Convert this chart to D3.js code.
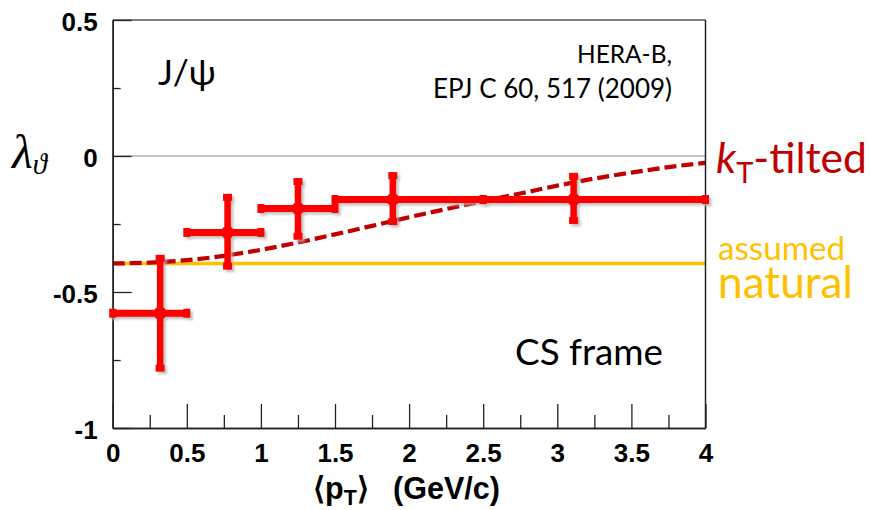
<!DOCTYPE html>
<html>
<head>
<meta charset="utf-8">
<script src="https://cdn.jsdelivr.net/npm/d3@7"></script>
<style>
  html, body { margin: 0; padding: 0; background: #ffffff; }
  svg { display: block; }
</style>
</head>
<body>
<svg id="chart" width="870" height="510"></svg>
<script>
// ---------------- data ----------------
const ptCenter   = [0.32, 0.775, 1.25, 1.89, 3.11];
const ptLow      = [0.0, 0.5, 1.0, 1.5, 2.5];
const ptHigh     = [0.5, 1.0, 1.5, 2.5, 4.0];
const lambdaVal  = [-0.578, -0.281, -0.193, -0.160, -0.160];
const lambdaLow  = [-0.780, -0.405, -0.295, -0.241, -0.237];
const lambdaHigh = [-0.376, -0.152, -0.094, -0.072, -0.075];

const naturalLambda = -0.395;

const kTcurvePt     = [0, 0.25, 0.5, 0.75, 1.0, 1.25, 1.5, 1.75, 2.0, 2.25, 2.5, 2.75, 3.0, 3.25, 3.5, 3.75, 4.0];
const kTcurveLambda = [-0.395, -0.392, -0.383, -0.367, -0.345, -0.318, -0.288, -0.257, -0.225, -0.195, -0.166, -0.138, -0.109, -0.083, -0.061, -0.041, -0.025];

const xTickValues = [0, 0.5, 1, 1.5, 2, 2.5, 3, 3.5, 4];
const xTickLabels = ["0", "0.5", "1", "1.5", "2", "2.5", "3", "3.5", "4"];
const xMinorTicks = [0.25, 0.75, 1.25, 1.75, 2.25, 2.75, 3.25, 3.75];
const yTickValues = [0.5, 0, -0.5, -1];
const yTickLabels = ["0.5", "0", "-0.5", "-1"];
const yMinorTicks = [0.25, -0.25, -0.75];

// ---------------- layout ----------------
const svg = d3.select("#chart");
const L = 112.7, R = 705.5, T = 20, B = 428;
const x = d3.scaleLinear().domain([0, 4]).range([L, R]);
const y = d3.scaleLinear().domain([-1, 0.5]).range([B, T]);

const RED = "#ff0000", DARKRED = "#c00000", GOLD = "#ffc000";
const SANS = "Lato, 'Open Sans', sans-serif";
const ARIAL = "'Liberation Sans', Arial, sans-serif";

const defs = svg.append("defs");
defs.append("filter").attr("id", "blur").append("feGaussianBlur").attr("stdDeviation", 0.8);

// ---------------- reference lines ----------------
svg.append("line")
  .attr("x1", x(0)).attr("x2", x(4)).attr("y1", y(0)).attr("y2", y(0))
  .attr("stroke", "#c4c4c4").attr("stroke-width", 2);

svg.append("line")
  .attr("x1", x(0)).attr("x2", x(4)).attr("y1", y(naturalLambda)).attr("y2", y(naturalLambda))
  .attr("stroke", GOLD).attr("stroke-width", 3.5);

const curveData = kTcurvePt.map((p, i) => [p, kTcurveLambda[i]]);
svg.append("path")
  .datum(curveData)
  .attr("d", d3.line().x(d => x(d[0])).y(d => y(d[1])).curve(d3.curveMonotoneX))
  .attr("fill", "none").attr("stroke", DARKRED).attr("stroke-width", 4.2)
  .attr("stroke-dasharray", "12,5");

// ---------------- frame & axes ----------------
svg.append("line").attr("x1", L).attr("x2", R).attr("y1", T).attr("y2", T)
  .attr("stroke", "#555").attr("stroke-width", 1.5);
svg.append("line").attr("x1", R).attr("x2", R).attr("y1", T).attr("y2", B)
  .attr("stroke", "#222").attr("stroke-width", 1.5);

function styleAxis(g) {
  g.attr("font-family", ARIAL).attr("font-size", 26).attr("font-weight", "bold");
  g.selectAll("path.domain").attr("stroke", "#222").attr("stroke-width", 1.5);
  g.selectAll(".tick line").attr("stroke", "#222").attr("stroke-width", 1.3);
  g.selectAll(".tick text").attr("fill", "#000");
}

const xAxis = d3.axisBottom(x).tickValues(xTickValues)
  .tickFormat((d, i) => xTickLabels[i]).tickSize(-24).tickSizeOuter(0).tickPadding(16);
const gx = svg.append("g").attr("transform", `translate(0,${B})`).call(xAxis);
styleAxis(gx);

const xMinor = d3.axisBottom(x).tickValues(xMinorTicks).tickFormat("").tickSize(-13).tickSizeOuter(0);
const gxm = svg.append("g").attr("transform", `translate(0,${B})`).call(xMinor);
styleAxis(gxm);

const yAxis = d3.axisLeft(y).tickValues(yTickValues)
  .tickFormat((d, i) => yTickLabels[i]).tickSize(-19).tickSizeOuter(0).tickPadding(15);
const gy = svg.append("g").attr("transform", `translate(${L},0)`).call(yAxis);
styleAxis(gy);
gy.selectAll(".tick text").attr("dy", "0.4em");

const yMinor = d3.axisLeft(y).tickValues(yMinorTicks).tickFormat("").tickSize(-8).tickSizeOuter(0);
const gym = svg.append("g").attr("transform", `translate(${L},0)`).call(yMinor);
styleAxis(gym);

// ---------------- data points with error bars ----------------
const pts = ptCenter.map((c, i) => ({
  c: c, lo: ptLow[i], hi: ptHigh[i], v: lambdaVal[i], vlo: lambdaLow[i], vhi: lambdaHigh[i]
}));

function drawPoints(g, color) {
  const p = g.selectAll("g.pt").data(pts).enter().append("g").attr("class", "pt");
  p.append("line").attr("x1", d => x(d.lo)).attr("x2", d => x(d.hi))
    .attr("y1", d => y(d.v)).attr("y2", d => y(d.v))
    .attr("stroke", color).attr("stroke-width", 7);
  p.append("line").attr("x1", d => x(d.c)).attr("x2", d => x(d.c))
    .attr("y1", d => y(d.vlo)).attr("y2", d => y(d.vhi))
    .attr("stroke", color).attr("stroke-width", 6.5);
  [d => x(d.lo), d => x(d.hi)].forEach(fx => {
    p.append("rect").attr("x", d => fx(d) - 3.5).attr("y", d => y(d.v) - 4.5)
      .attr("width", 7).attr("height", 9).attr("fill", color);
  });
  [d => y(d.vlo), d => y(d.vhi)].forEach(fy => {
    p.append("rect").attr("x", d => x(d.c) - 4.5).attr("y", d => fy(d) - 3.5)
      .attr("width", 9).attr("height", 7).attr("fill", color);
  });
  p.append("circle").attr("cx", d => x(d.c)).attr("cy", d => y(d.v)).attr("r", 6.5).attr("fill", color);
}

const shadow = svg.append("g").attr("transform", "translate(2.5,2.5)")
  .attr("filter", "url(#blur)").attr("opacity", 0.75);
drawPoints(shadow, "#b0b0b0");
const main = svg.append("g");
drawPoints(main, RED);

// ---------------- text ----------------
function fitWidth(sel, w) {
  const fs = parseFloat(sel.attr("font-size"));
  const len = sel.node().getComputedTextLength();
  if (len > 0) sel.attr("font-size", (fs * w / len).toFixed(2));
  return sel;
}

fitWidth(svg.append("text").attr("x", 158).attr("y", 85)
  .attr("font-family", SANS).attr("font-size", 28).attr("fill", "#000")
  .text("J/ψ"), 58);

fitWidth(svg.append("text").attr("x", 672).attr("y", 63).attr("text-anchor", "end")
  .attr("font-family", SANS).attr("font-size", 24).attr("fill", "#000")
  .text("HERA-B,"), 95);
fitWidth(svg.append("text").attr("x", 672).attr("y", 98).attr("text-anchor", "end")
  .attr("font-family", SANS).attr("font-size", 24).attr("fill", "#000")
  .text("EPJ C 60, 517 (2009)"), 239);

fitWidth(svg.append("text").attr("x", 663).attr("y", 365).attr("text-anchor", "end")
  .attr("font-family", SANS).attr("font-size", 38).attr("fill", "#000")
  .text("CS frame"), 148);

const kt = svg.append("text").attr("x", 716).attr("y", 173)
  .attr("font-family", SANS).attr("font-size", 40).attr("fill", DARKRED);
kt.append("tspan").attr("font-style", "italic").text("k");
kt.append("tspan").attr("font-size", "0.68em").attr("dy", "0.36em").text("T");
kt.append("tspan").attr("dy", "-0.245em").text("-tilted");
fitWidth(kt, 151);

fitWidth(svg.append("text").attr("x", 718).attr("y", 260)
  .attr("font-family", SANS).attr("font-size", 30).attr("fill", GOLD)
  .text("assumed"), 127);
fitWidth(svg.append("text").attr("x", 718).attr("y", 298)
  .attr("font-family", SANS).attr("font-size", 40).attr("fill", GOLD)
  .text("natural"), 135);

const yt = svg.append("text").attr("x", 12).attr("y", 168)
  .attr("font-family", "'Liberation Serif', 'DejaVu Serif', serif").attr("font-style", "italic")
  .attr("font-size", 48).attr("fill", "#000");
yt.append("tspan").text("λ");
yt.append("tspan").attr("font-size", "0.6em").attr("dy", "0.2em").text("ϑ");

const xt1 = svg.append("text").attr("x", 313).attr("y", 499)
  .attr("font-family", ARIAL).attr("font-weight", "bold").attr("font-size", 26).attr("fill", "#000");
xt1.append("tspan").text("⟨p");
xt1.append("tspan").attr("font-size", "0.7em").attr("dy", "0.3em").text("T");
xt1.append("tspan").attr("dy", "-0.21em").text("⟩");
const xt2 = svg.append("text").attr("x", 393).attr("y", 499)
  .attr("font-family", ARIAL).attr("font-weight", "bold").attr("font-size", 26).attr("fill", "#000")
  .text("(GeV/c)");
fitWidth(xt2, 107);
xt1.attr("font-size", xt2.attr("font-size"));
</script>
</body>
</html>
